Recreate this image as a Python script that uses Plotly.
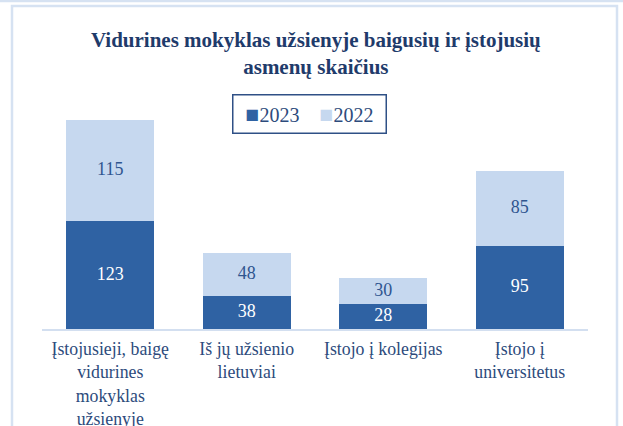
import plotly.graph_objects as go

categories = ["Įstojusieji, baigę<br>vidurines<br>mokyklas<br>užsienyje",
              "Iš jų užsienio<br>lietuviai",
              "Įstojo į kolegijas",
              "Įstojo į<br>universitetus"]
series_names = ["2023", "2022"]
values_2023 = [123, 38, 28, 95]
values_2022 = [115, 48, 30, 85]

FONT = "Liberation Serif"
DARK = "#2F62A3"
LIGHT = "#C6D8EF"
NAVY = "#1F3B6B"
LABEL = "#2D4B7C"
FRAME = "#D6E2F2"

# label positions derived from the data (middle of each stacked segment)
mid_2023 = [a / 2 for a in values_2023]
mid_2022 = [a + b / 2 for a, b in zip(values_2023, values_2022)]

fig = go.Figure()
fig.add_trace(go.Bar(
    name=series_names[0], x=categories, y=values_2023,
    marker=dict(color=DARK, line=dict(width=0)),
    hoverinfo="skip", showlegend=False,
))
fig.add_trace(go.Bar(
    name=series_names[1], x=categories, y=values_2022,
    marker=dict(color=LIGHT, line=dict(width=0)),
    hoverinfo="skip", showlegend=False,
))
fig.add_trace(go.Scatter(
    x=categories, y=mid_2023, mode="text",
    text=[str(v) for v in values_2023],
    textfont=dict(family=FONT, size=18, color="white"),
    showlegend=False, hoverinfo="skip",
))
fig.add_trace(go.Scatter(
    x=categories, y=mid_2022, mode="text",
    text=[str(v) for v in values_2022],
    textfont=dict(family=FONT, size=18, color="#2F558F"),
    showlegend=False, hoverinfo="skip",
))

T, B, L, R = 60, 97, 42, 35
PH = 426 - T - B   # 269
PW = 623 - L - R   # 546

legend_text = (
    f"<span style='color:{DARK};font-size:23px'>■</span>{series_names[0]}"
    "\u00a0\u00a0\u00a0\u00a0"
    f"<span style='color:{LIGHT};font-size:23px'>■</span>{series_names[1]}"
)

fig.update_layout(
    width=623, height=426,
    barmode="stack", bargap=0.355,
    paper_bgcolor="white", plot_bgcolor="white",
    margin=dict(l=L, r=R, t=T, b=B, autoexpand=False),
    font=dict(family=FONT, color=LABEL),
    title=dict(
        text="<b>Vidurines mokyklas užsienyje baigusių ir įstojusių<br>asmenų skaičius</b>",
        x=0.507, xanchor="center", y=1 - 47 / 426, yanchor="middle",
        font=dict(family=FONT, size=21, color=NAVY),
    ),
    showlegend=False,
    annotations=[dict(
        text=legend_text, xref="paper", yref="paper",
        x=(309.5 - L) / PW, y=(426 - B - 113.5) / PH,
        xanchor="center", yanchor="middle", showarrow=False,
        font=dict(family=FONT, size=20, color=LABEL),
        bordercolor="#2F5086", borderwidth=1.5, borderpad=6,
        width=140, height=25, align="center",
    )],
    xaxis=dict(
        showline=True, linecolor="#D3DFF0", linewidth=2,
        showgrid=False, ticks="", zeroline=False, automargin=False,
        ticklabelstandoff=3,
        tickfont=dict(family=FONT, size=17.8, color=LABEL),
    ),
    yaxis=dict(range=[0, PH / 0.878], visible=False, showgrid=False,
               zeroline=False, automargin=False),
)

# chart frame (light blue border)
fig.add_shape(type="rect", xref="paper", yref="paper",
              x0=(12 - L) / PW, x1=(617 - L) / PW,
              y0=-120 / PH, y1=(426 - B - 6) / PH,
              line=dict(color=FRAME, width=2.5), layer="above")
fig.add_shape(type="line", xref="paper", yref="paper",
              x0=-L / PW, x1=(623 - L) / PW,
              y0=(426 - B - 1) / PH, y1=(426 - B - 1) / PH,
              line=dict(color=FRAME, width=2.5), layer="above")

fig.write_html("out.html", config={"displayModeBar": False},
               post_script="document.body.style.margin='0';document.body.style.overflow='hidden';")
